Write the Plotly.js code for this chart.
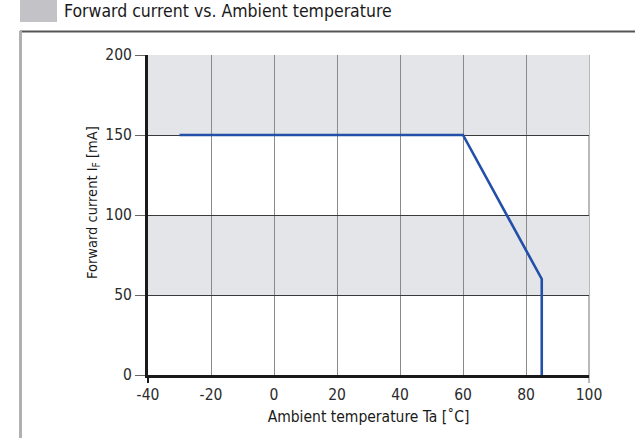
<!DOCTYPE html>
<html>
<head>
<meta charset="utf-8">
<script src="https://cdn.plot.ly/plotly-3.0.1.min.js"></script>
<style>
html,body{margin:0;padding:0;background:#fff;}
#chart{width:635px;height:438px;}
</style>
</head>
<body>
<div id="chart"></div>
<script>
// Data
const temperature = [-30, 60, 85, 85];
const forwardCurrent = [150, 150, 60, 0];
const xTicks = [-40, -20, 0, 20, 40, 60, 80, 100];
const yTicks = [0, 50, 100, 150, 200];
const shadedBands = [[50, 100], [150, 200]];

const FONT = "'DejaVu Sans Condensed', 'DejaVu Sans', sans-serif";

// margins in px
const L = 148, R = 46, T = 55, B = 63, W = 635, H = 438;
const pw = W - L - R, ph = H - T - B;
const px = p => (p - L) / pw;
const py = p => (H - B - p) / ph;

const shapes = [];
shadedBands.forEach(b => shapes.push({
  type: 'rect', xref: 'x', yref: 'y', x0: -40, x1: 100, y0: b[0], y1: b[1],
  fillcolor: '#e4e5e8', line: {width: 0}, layer: 'below'
}));
// right border of plot (extends slightly below axis)
shapes.push({type: 'line', xref: 'paper', yref: 'paper', x0: 1, x1: 1, y0: py(383), y1: 1,
  line: {color: '#8a8a8a', width: 1.2}, layer: 'between'});
// left axis extension below the x axis
shapes.push({type: 'line', xref: 'paper', yref: 'paper', x0: 0, x1: 0, y0: py(383), y1: 0,
  line: {color: '#1a1a1a', width: 2}, layer: 'between'});
// decorative header square
shapes.push({type: 'rect', xref: 'paper', yref: 'paper',
  x0: px(20), x1: px(57), y0: py(22), y1: py(0),
  fillcolor: '#c3c3c7', line: {width: 0}});
// frame top line
shapes.push({type: 'line', xref: 'paper', yref: 'paper',
  x0: px(20), x1: px(635), y0: py(31.5), y1: py(31.5),
  line: {color: '#555', width: 2}});
// frame left line
shapes.push({type: 'line', xref: 'paper', yref: 'paper',
  x0: px(20.5), x1: px(20.5), y0: py(31), y1: py(440),
  line: {color: '#b0b0b0', width: 3}});

const data = [{
  x: temperature, y: forwardCurrent, type: 'scatter', mode: 'lines',
  line: {color: '#2250a8', width: 2.6}, hoverinfo: 'x+y', showlegend: false
}];

const layout = {
  width: W, height: H,
  margin: {l: L, r: R, t: T, b: B, pad: 0},
  paper_bgcolor: '#fff', plot_bgcolor: '#fff',
  font: {family: FONT, color: '#2a2a2a', size: 15},
  title: {
    text: 'Forward current vs. Ambient temperature',
    xref: 'container', yref: 'container',
    x: 64 / W, xanchor: 'left', y: 1 - 11 / H, yanchor: 'middle',
    font: {family: FONT, size: 17.5, color: '#1a1a1a'}
  },
  xaxis: {
    range: [-40, 100], tickvals: xTicks, ticktext: xTicks.map(String),
    showgrid: true, gridcolor: '#8a8a8a', gridwidth: 1,
    zeroline: false, showline: true, linecolor: '#1a1a1a', linewidth: 3,
    ticks: 'outside', ticklen: 3, tickcolor: 'rgba(0,0,0,0)',
    tickfont: {size: 15.5, family: FONT, color: '#2a2a2a'},
    title: {text: 'Ambient temperature Ta [˚C]', font: {size: 15.5, family: FONT, color: '#1a1a1a'}, standoff: 9},
    fixedrange: true
  },
  yaxis: {
    range: [0, 200], tickvals: yTicks, ticktext: yTicks.map(String),
    showgrid: true, gridcolor: '#3a3a3a', gridwidth: 1,
    zeroline: false, showline: true, linecolor: '#1a1a1a', linewidth: 3,
    ticks: 'outside', ticklen: 10, tickcolor: '#666', tickwidth: 1,
    tickfont: {size: 15.5, family: FONT, color: '#2a2a2a'},
    fixedrange: true
  },
  annotations: [{
    text: 'Forward current I<sub>F</sub> [mA]',
    xref: 'paper', yref: 'paper', x: px(93), y: py(203),
    xanchor: 'center', yanchor: 'middle', textangle: -90, showarrow: false,
    font: {size: 14.5, family: FONT, color: '#1a1a1a'}
  }],
  shapes: shapes
};

Plotly.newPlot('chart', data, layout, {displayModeBar: false, staticPlot: true});
</script>
</body>
</html>
